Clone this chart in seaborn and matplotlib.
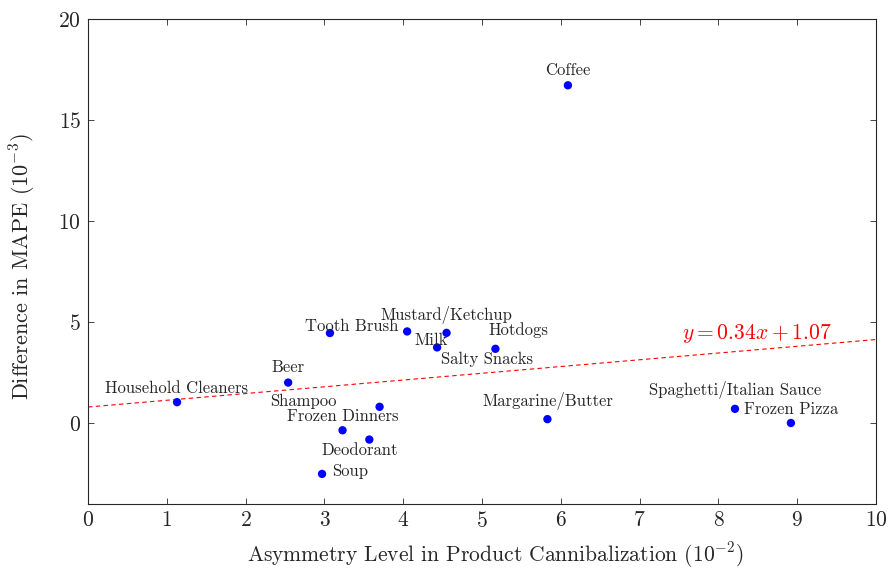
import numpy as np
import pandas as pd
import seaborn as sns
import matplotlib.pyplot as plt

# product categories and their measured values
products = ["Coffee", "Tooth Brush", "Mustard/Ketchup", "Milk", "Salty Snacks",
            "Hotdogs", "Beer", "Household Cleaners", "Shampoo", "Frozen Dinners",
            "Deodorant", "Soup", "Margarine/Butter", "Spaghetti/Italian Sauce",
            "Frozen Pizza"]
asymmetry = [6.09, 3.07, 4.55, 4.05, 4.43, 5.17, 2.54, 1.13, 3.70, 3.23,
             3.57, 2.97, 5.83, 8.21, 8.92]
mape_diff = [16.72, 4.46, 4.47, 4.54, 3.75, 3.68, 2.01, 1.04, 0.81, -0.35,
             -0.81, -2.51, 0.20, 0.71, 0.01]

# fitted trend as drawn
trend_slope = 0.334
trend_intercept = 0.80
trend_text = r"$y = 0.34x + 1.07$"

# label offsets in pixels (dx, dy)
label_offsets = {
    "Coffee": (0, 14.6), "Tooth Brush": (21.6, 7), "Mustard/Ketchup": (0, 17.7),
    "Milk": (23.7, -9), "Salty Snacks": (49.7, -11.7), "Hotdogs": (23.3, 19.2),
    "Beer": (0, 15.3), "Household Cleaners": (0, 14), "Shampoo": (-75.9, 5),
    "Frozen Dinners": (0, 14.3), "Deodorant": (-10, -10.7), "Soup": (28.3, 2.7),
    "Margarine/Butter": (0, 18), "Spaghetti/Italian Sauce": (0, 18.4),
    "Frozen Pizza": (0, 13.4),
}

df = pd.DataFrame({"product": products, "x": asymmetry, "y": mape_diff})
trend_x = np.array([0, 10])
trend = pd.DataFrame({"x": trend_x, "y": trend_slope * trend_x + trend_intercept})

sns.set_style("ticks")
plt.rcParams["font.family"] = "serif"
plt.rcParams["font.serif"] = ["cmr10", "DejaVu Serif"]
plt.rcParams["mathtext.fontset"] = "cm"
plt.rcParams["axes.formatter.use_mathtext"] = True
plt.rcParams["axes.unicode_minus"] = False

fig, ax = plt.subplots(figsize=(8.89, 5.71), dpi=100)
fig.subplots_adjust(left=0.099, right=0.9854, top=0.9667, bottom=0.1173)

sns.lineplot(data=trend, x="x", y="y", ax=ax, color="red", linestyle=(0, (4, 3)),
             linewidth=0.8)
sns.scatterplot(data=df, x="x", y="y", ax=ax, color="blue", s=36, edgecolor="none",
                zorder=3)

for _, row in df.iterrows():
    dx, dy = label_offsets[row["product"]]
    ax.annotate(row["product"], (row["x"], row["y"]), xytext=(dx, dy),
                textcoords="offset pixels", ha="center", va="center", fontsize=12)

ax.text(8.49, 4.45, trend_text, color="red", fontsize=15.5, ha="center", va="center")

ax.set_xlim(0, 10)
ax.set_ylim(-4, 20)
ax.set_xticks(range(0, 11))
ax.set_yticks([0, 5, 10, 15, 20])
ax.tick_params(direction="in", top=True, right=True, length=4, width=0.6,
               labelsize=15.5, pad=5)
for sp in ax.spines.values():
    sp.set_linewidth(0.8)

ax.set_xlabel(r"Asymmetry Level in Product Cannibalization ($10^{-2}$)", fontsize=15.5)
ax.set_ylabel(r"Difference in MAPE ($10^{-3}$)", fontsize=16)
ax.xaxis.set_label_coords(0.5165, -0.074)
ax.yaxis.set_label_coords(-0.064, 0.49)

plt.savefig("out.png", dpi=100)
plt.close()
